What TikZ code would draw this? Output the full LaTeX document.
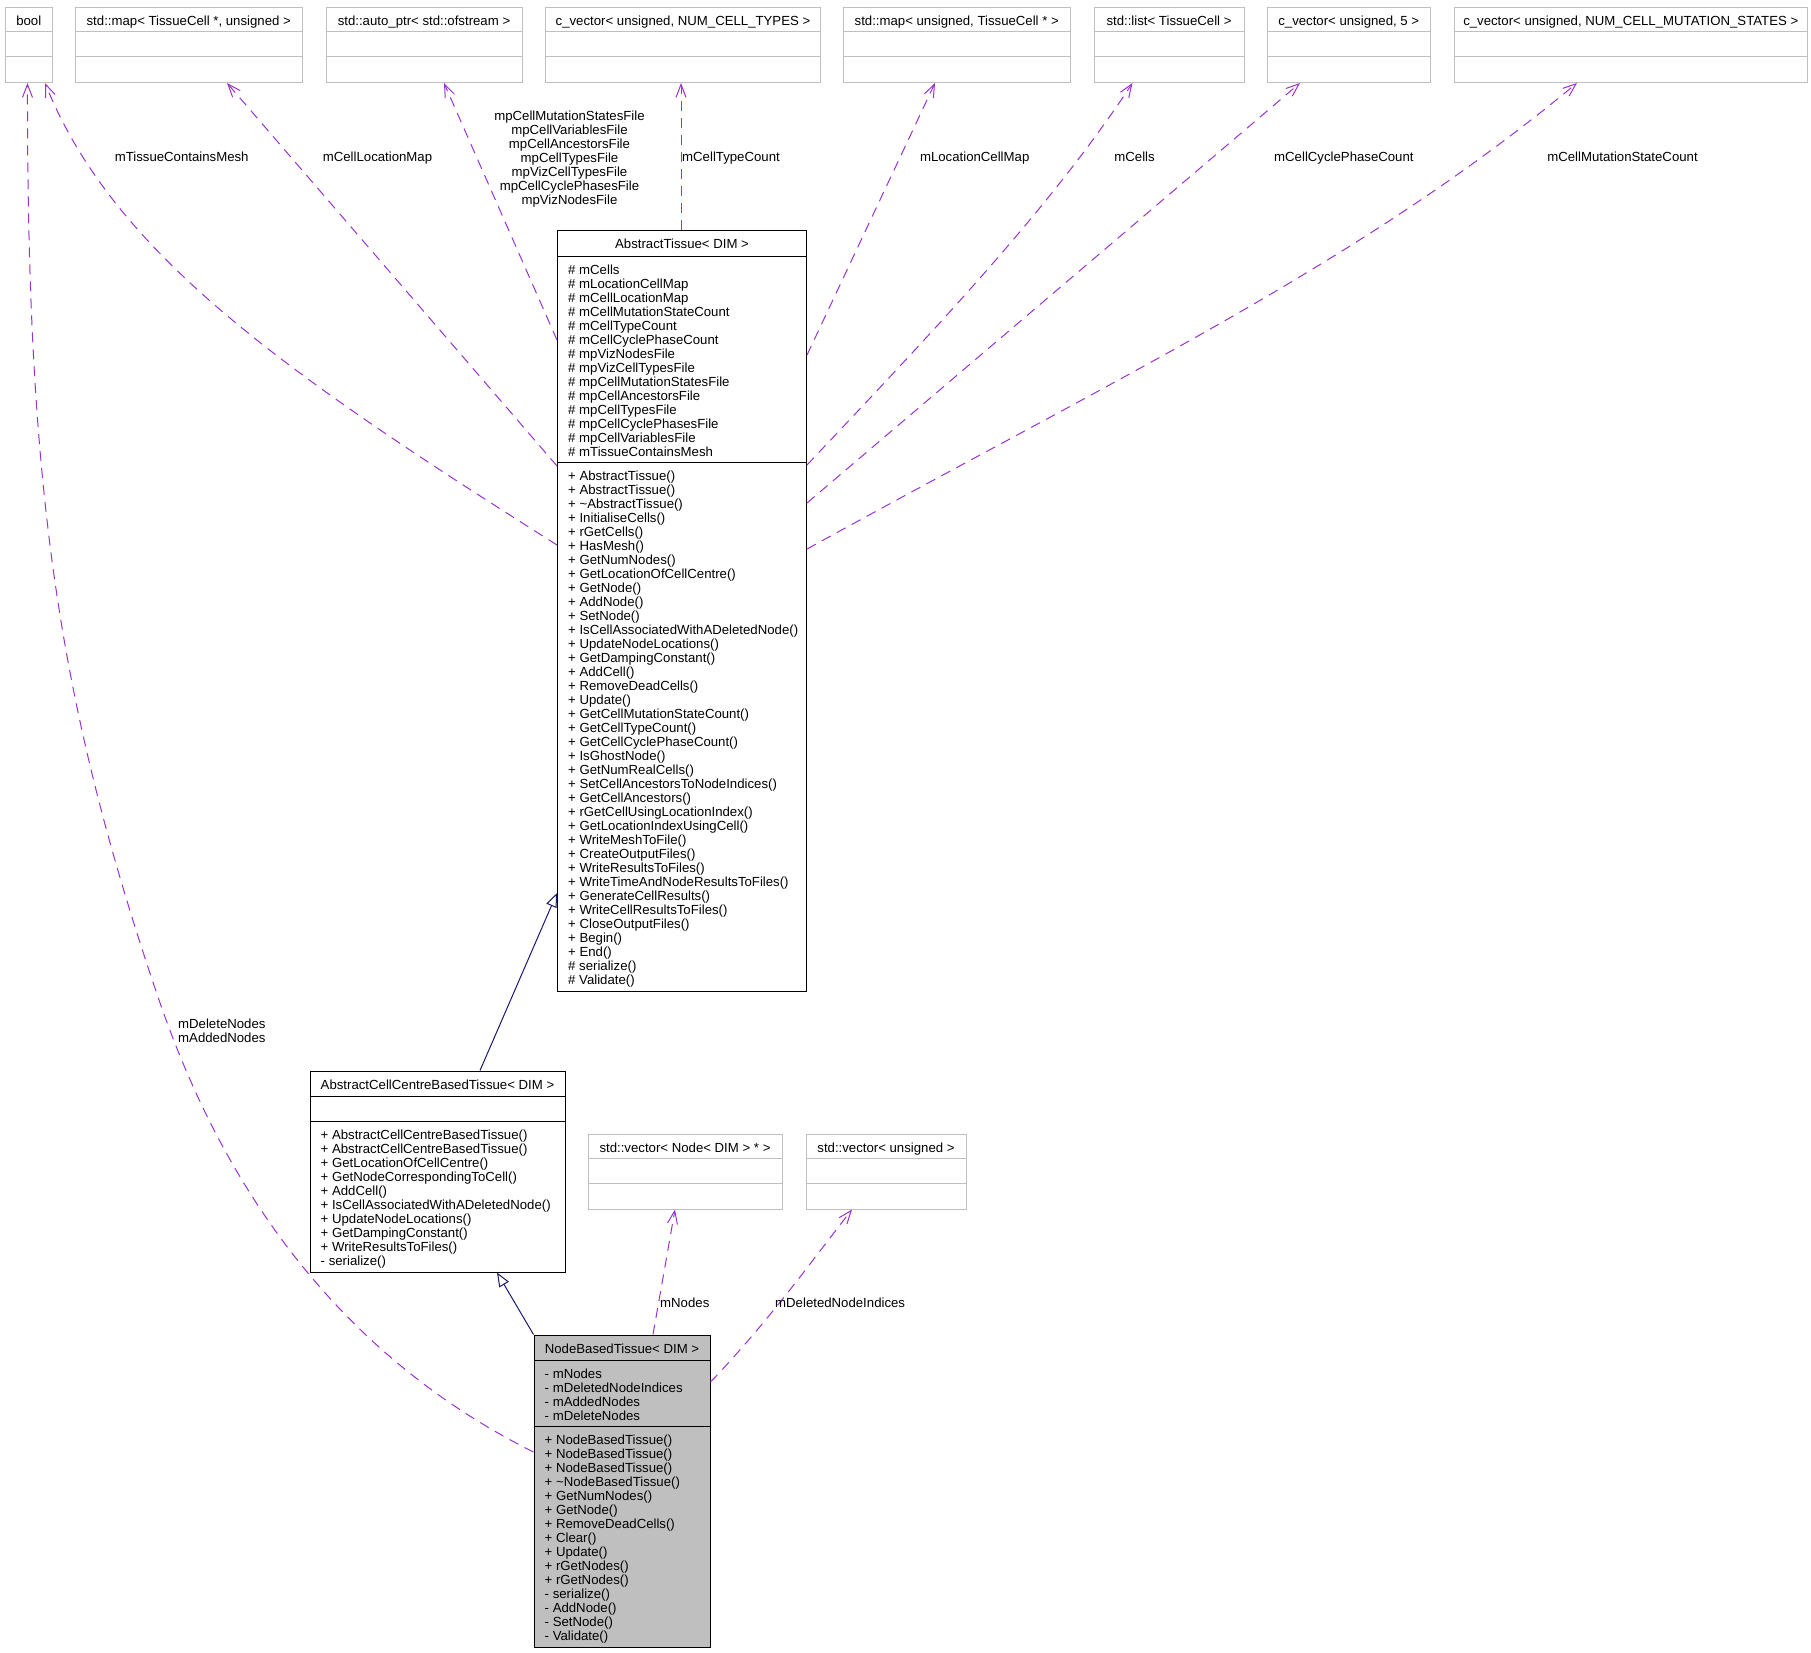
\documentclass[tikz,border=0pt]{standalone}
\usepackage{fontspec}
\setmainfont{Liberation Sans}
\usetikzlibrary{arrows.meta}
\definecolor{linkviolet}{HTML}{9A32CD}
\definecolor{inhnavy}{HTML}{191970}
\definecolor{boxgrey}{HTML}{BFBFBF}
\begin{document}
\begin{tikzpicture}[x=1pt,y=-1pt,
  every node/.style={font=\fontsize{13.2}{14}\selectfont,inner sep=0pt},
  clsbox/.style={draw,line width=1pt,anchor=north west},
  extbox/.style={draw=boxgrey,line width=1pt,anchor=north west,minimum height=75pt},
  sepline/.style={line width=1pt},
  members/.style={anchor=north west,align=left},
  uses/.style={linkviolet,line width=1pt,dash pattern=on 10pt off 7pt,-{Straight Barb[length=13pt,width=10pt]}},
  inherits/.style={inhnavy,line width=1pt,-{Triangle[open,length=14pt,width=11pt]}},
  elabel/.style={anchor=base}]
\useasboundingbox (0,0) rectangle (1811,1653);
% external types (top row + the two vectors)
\foreach \nm/\xx/\yy/\ww/\txt in {bool/5/7/46.5/bool,
    mapcell/75/7/226.5/{std::map< TissueCell *, unsigned >},
    autoptr/325.5/7/196/{std::auto\_ptr< std::ofstream >},
    cvtypes/545/7/275/{c\_vector< unsigned, NUM\_CELL\_TYPES >},
    mapuns/843/7/226.5/{std::map< unsigned, TissueCell * >},
    cells/1093.5/7/150/{std::list< TissueCell >},
    cvfive/1267/7/162.5/{c\_vector< unsigned, 5 >},
    cvmut/1453.5/7/353.5/{c\_vector< unsigned, NUM\_CELL\_MUTATION\_STATES >},
    vecnode/587.5/1133.5/194/{std::vector< Node< DIM > * >},
    vecuns/805.5/1133.5/160/{std::vector< unsigned >}} {
  \node[extbox,minimum width=\ww pt] (\nm) at (\xx,\yy) {};
  \node[anchor=base] (\nm-t) at ([yshift=-18.5pt]\nm.north) {\txt};
  \draw[boxgrey,sepline] ([yshift=-25pt]\nm.north west) -- ([yshift=-25pt]\nm.north east)
    ([yshift=-50pt]\nm.north west) -- ([yshift=-50pt]\nm.north east);
}
% AbstractTissue
\node[clsbox,minimum width=249pt,minimum height=760pt] (at) at (557,230.5) {};
\draw[sepline] ([yshift=-26pt]at.north west) -- ([yshift=-26pt]at.north east)
  ([yshift=-232pt]at.north west) -- ([yshift=-232pt]at.north east);
\node[anchor=base] (at-t) at ([yshift=-18.5pt]at.north) {AbstractTissue< DIM >};
\node[members] (at-a) at ([xshift=11pt,yshift=-34.5pt]at.north west) {\# mCells\\\# mLocationCellMap\\\# mCellLocationMap\\\# mCellMutationStateCount\\\# mCellTypeCount\\\# mCellCyclePhaseCount\\\# mpVizNodesFile\\\# mpVizCellTypesFile\\\# mpCellMutationStatesFile\\\# mpCellAncestorsFile\\\# mpCellTypesFile\\\# mpCellCyclePhasesFile\\\# mpCellVariablesFile\\\# mTissueContainsMesh};
\node[members] (at-m) at ([xshift=11pt,yshift=-240.5pt]at.north west) {+ AbstractTissue()\\+ AbstractTissue()\\+ \textasciitilde AbstractTissue()\\+ InitialiseCells()\\+ rGetCells()\\+ HasMesh()\\+ GetNumNodes()\\+ GetLocationOfCellCentre()\\+ GetNode()\\+ AddNode()\\+ SetNode()\\+ IsCellAssociatedWithADeletedNode()\\+ UpdateNodeLocations()\\+ GetDampingConstant()\\+ AddCell()\\+ RemoveDeadCells()\\+ Update()\\+ GetCellMutationStateCount()\\+ GetCellTypeCount()\\+ GetCellCyclePhaseCount()\\+ IsGhostNode()\\+ GetNumRealCells()\\+ SetCellAncestorsToNodeIndices()\\+ GetCellAncestors()\\+ rGetCellUsingLocationIndex()\\+ GetLocationIndexUsingCell()\\+ WriteMeshToFile()\\+ CreateOutputFiles()\\+ WriteResultsToFiles()\\+ WriteTimeAndNodeResultsToFiles()\\+ GenerateCellResults()\\+ WriteCellResultsToFiles()\\+ CloseOutputFiles()\\+ Begin()\\+ End()\\\# serialize()\\\# Validate()};
% AbstractCellCentreBasedTissue
\node[clsbox,minimum width=255pt,minimum height=201pt] (acc) at (309.5,1070.5) {};
\draw[sepline] ([yshift=-26pt]acc.north west) -- ([yshift=-26pt]acc.north east)
  ([yshift=-51pt]acc.north west) -- ([yshift=-51pt]acc.north east);
\node[anchor=base] (acc-t) at ([yshift=-18.5pt]acc.north) {AbstractCellCentreBasedTissue< DIM >};
\node[members] (acc-m) at ([xshift=11pt,yshift=-59.5pt]acc.north west) {+ AbstractCellCentreBasedTissue()\\+ AbstractCellCentreBasedTissue()\\+ GetLocationOfCellCentre()\\+ GetNodeCorrespondingToCell()\\+ AddCell()\\+ IsCellAssociatedWithADeletedNode()\\+ UpdateNodeLocations()\\+ GetDampingConstant()\\+ WriteResultsToFiles()\\- serialize()};
% NodeBasedTissue (the class itself, shaded)
\node[clsbox,fill=boxgrey,minimum width=176pt,minimum height=312pt] (nbt) at (533.5,1334.5) {};
\draw[sepline] ([yshift=-26pt]nbt.north west) -- ([yshift=-26pt]nbt.north east)
  ([yshift=-92pt]nbt.north west) -- ([yshift=-92pt]nbt.north east);
\node[anchor=base] (nbt-t) at ([yshift=-18.5pt]nbt.north) {NodeBasedTissue< DIM >};
\node[members] (nbt-a) at ([xshift=11pt,yshift=-34.5pt]nbt.north west) {- mNodes\\- mDeletedNodeIndices\\- mAddedNodes\\- mDeleteNodes};
\node[members] (nbt-m) at ([xshift=11pt,yshift=-100.5pt]nbt.north west) {+ NodeBasedTissue()\\+ NodeBasedTissue()\\+ NodeBasedTissue()\\+ \textasciitilde NodeBasedTissue()\\+ GetNumNodes()\\+ GetNode()\\+ RemoveDeadCells()\\+ Clear()\\+ Update()\\+ rGetNodes()\\+ rGetNodes()\\- serialize()\\- AddNode()\\- SetNode()\\- Validate()};
% inheritance
\draw[inherits] ([xshift=170.5pt]acc.north west) -- ([yshift=-662.5pt]at.north west);
\draw[inherits] (nbt.north west) -- ([xshift=187.5pt]acc.south west);
% usage links
\draw[uses] ([yshift=-117.5pt]nbt.north west) .. controls (293,1332) and (199,1117) .. (158,997)
  .. controls (56,697) and (27,482) .. ([xshift=22.5pt]bool.south west);
\draw[uses] ([yshift=-314.5pt]at.north west) .. controls (285,373) and (114,254) .. ([xshift=40pt]bool.south west);
\draw[uses] ([yshift=-235.5pt]at.north west) -- ([xshift=152pt]mapcell.south west);
\draw[uses] ([yshift=-109.5pt]at.north west) -- ([xshift=118.5pt]autoptr.south west);
\draw[uses] ([xshift=124pt]at.north west) -- ([xshift=136pt]cvtypes.south west);
\draw[uses] ([yshift=-124.5pt]at.north east) -- ([xshift=92pt]mapuns.south west);
\draw[uses] ([yshift=-234.5pt]at.north east) .. controls (929.5,335) and (1047.5,212) .. ([xshift=39pt]cells.south west);
\draw[uses] ([yshift=-272.5pt]at.north east) -- ([xshift=33pt]cvfive.south west);
\draw[uses] ([yshift=-318.5pt]at.north east) .. controls (1134,369) and (1361,262) .. ([xshift=123.5pt]cvmut.south west);
\draw[uses] ([xshift=119.5pt]nbt.north west) -- ([xshift=87.5pt]vecnode.south west);
\draw[uses] ([yshift=-47.5pt]nbt.north east) .. controls (770,1320) and (820,1250) .. ([xshift=46.5pt]vecuns.south west);
% link labels
\node[elabel] (l-mesh) at (181.7,161.5) {mTissueContainsMesh};
\node[elabel] (l-locmap) at (377.5,161.5) {mCellLocationMap};
\node[anchor=north,align=center] (l-files) at (569.5,110.3) {mpCellMutationStatesFile\\mpCellVariablesFile\\mpCellAncestorsFile\\mpCellTypesFile\\mpVizCellTypesFile\\mpCellCyclePhasesFile\\mpVizNodesFile};
\node[elabel] (l-types) at (731,161.5) {mCellTypeCount};
\node[elabel] (l-cellmap) at (974.7,161.5) {mLocationCellMap};
\node[elabel] (l-cells) at (1134.6,161.5) {mCells};
\node[elabel] (l-phase) at (1343.9,161.5) {mCellCyclePhaseCount};
\node[elabel] (l-mut) at (1622.5,161.5) {mCellMutationStateCount};
\node[members] (l-added) at (178,1018.3) {mDeleteNodes\\mAddedNodes};
\node[anchor=base west] (l-nodes) at (660,1307.4) {mNodes};
\node[anchor=base west] (l-delidx) at (775,1307.4) {mDeletedNodeIndices};
\end{tikzpicture}
\end{document}
